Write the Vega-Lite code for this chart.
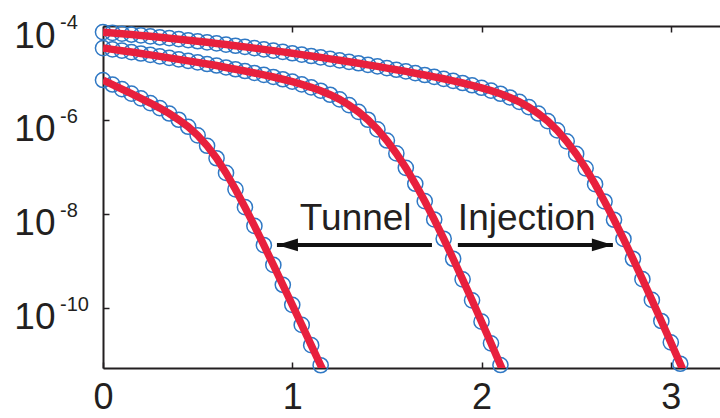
{
  "$schema": "https://vega.github.io/schema/vega-lite/v6.json",
  "width": 617,
  "height": 342,
  "autosize": "none",
  "padding": {"left": 103, "top": 26, "right": 0, "bottom": 50},
  "background": "white",
  "config": {"view": {"stroke": null}, "font": "Liberation Sans"},
  "datasets": {
    "curves": [
      {"c":"A","v":0,"I":7.41e-5,"k":"m"},{"c":"A","v":0.05,"I":7.13e-5,"k":"m"},{"c":"A","v":0.1,"I":6.85e-5,"k":"m"},{"c":"A","v":0.15,"I":6.58e-5,"k":"m"},{"c":"A","v":0.2,"I":6.30e-5,"k":"m"},{"c":"A","v":0.25,"I":6.03e-5,"k":"m"},{"c":"A","v":0.3,"I":5.75e-5,"k":"m"},{"c":"A","v":0.35,"I":5.50e-5,"k":"m"},{"c":"A","v":0.4,"I":5.24e-5,"k":"m"},{"c":"A","v":0.45,"I":4.98e-5,"k":"m"},{"c":"A","v":0.5,"I":4.73e-5,"k":"m"},{"c":"A","v":0.55,"I":4.49e-5,"k":"m"},{"c":"A","v":0.6,"I":4.26e-5,"k":"m"},{"c":"A","v":0.65,"I":4.03e-5,"k":"m"},{"c":"A","v":0.7,"I":3.80e-5,"k":"m"},{"c":"A","v":0.75,"I":3.59e-5,"k":"m"},{"c":"A","v":0.8,"I":3.38e-5,"k":"m"},{"c":"A","v":0.85,"I":3.18e-5,"k":"m"},{"c":"A","v":0.9,"I":2.99e-5,"k":"m"},{"c":"A","v":0.95,"I":2.81e-5,"k":"m"},{"c":"A","v":1.0,"I":2.63e-5,"k":"m"},{"c":"A","v":1.05,"I":2.46e-5,"k":"m"},{"c":"A","v":1.1,"I":2.30e-5,"k":"m"},{"c":"A","v":1.15,"I":2.15e-5,"k":"m"},{"c":"A","v":1.2,"I":2.00e-5,"k":"m"},{"c":"A","v":1.25,"I":1.86e-5,"k":"m"},{"c":"A","v":1.3,"I":1.73e-5,"k":"m"},{"c":"A","v":1.35,"I":1.61e-5,"k":"m"},{"c":"A","v":1.4,"I":1.49e-5,"k":"m"},{"c":"A","v":1.45,"I":1.38e-5,"k":"m"},{"c":"A","v":1.5,"I":1.27e-5,"k":"m"},{"c":"A","v":1.55,"I":1.17e-5,"k":"m"},{"c":"A","v":1.6,"I":1.08e-5,"k":"m"},{"c":"A","v":1.65,"I":9.89e-6,"k":"m"},{"c":"A","v":1.7,"I":9.06e-6,"k":"m"},{"c":"A","v":1.75,"I":8.26e-6,"k":"m"},{"c":"A","v":1.8,"I":7.52e-6,"k":"m"},{"c":"A","v":1.85,"I":6.81e-6,"k":"m"},{"c":"A","v":1.9,"I":6.12e-6,"k":"m"},{"c":"A","v":1.95,"I":5.47e-6,"k":"m"},{"c":"A","v":2.0,"I":4.84e-6,"k":"m"},{"c":"A","v":2.05,"I":4.22e-6,"k":"m"},{"c":"A","v":2.1,"I":3.61e-6,"k":"m"},{"c":"A","v":2.15,"I":3.01e-6,"k":"m"},{"c":"A","v":2.2,"I":2.43e-6,"k":"m"},{"c":"A","v":2.25,"I":1.87e-6,"k":"m"},{"c":"A","v":2.3,"I":1.37e-6,"k":"m"},{"c":"A","v":2.35,"I":9.42e-7,"k":"m"},{"c":"A","v":2.4,"I":6.00e-7,"k":"m"},{"c":"A","v":2.45,"I":3.51e-7,"k":"m"},{"c":"A","v":2.5,"I":1.89e-7,"k":"m"},{"c":"A","v":2.55,"I":9.35e-8,"k":"m"},{"c":"A","v":2.6,"I":4.30e-8,"k":"m"},{"c":"A","v":2.65,"I":1.84e-8,"k":"m"},{"c":"A","v":2.7,"I":7.52e-9,"k":"m"},{"c":"A","v":2.75,"I":2.93e-9,"k":"m"},{"c":"A","v":2.8,"I":1.11e-9,"k":"m"},{"c":"A","v":2.85,"I":4.08e-10,"k":"m"},{"c":"A","v":2.9,"I":1.48e-10,"k":"m"},{"c":"A","v":2.95,"I":5.26e-11,"k":"m"},{"c":"A","v":3.0,"I":1.85e-11,"k":"m"},{"c":"A","v":3.05,"I":6.47e-12,"k":"m"},{"c":"A","v":3.1,"I":2.25e-12,"k":"f"},
      {"c":"B","v":0,"I":3.39e-5,"k":"m"},{"c":"B","v":0.05,"I":3.18e-5,"k":"m"},{"c":"B","v":0.1,"I":2.98e-5,"k":"m"},{"c":"B","v":0.15,"I":2.79e-5,"k":"m"},{"c":"B","v":0.2,"I":2.60e-5,"k":"m"},{"c":"B","v":0.25,"I":2.43e-5,"k":"m"},{"c":"B","v":0.3,"I":2.26e-5,"k":"m"},{"c":"B","v":0.35,"I":2.10e-5,"k":"m"},{"c":"B","v":0.4,"I":1.95e-5,"k":"m"},{"c":"B","v":0.45,"I":1.81e-5,"k":"m"},{"c":"B","v":0.5,"I":1.68e-5,"k":"m"},{"c":"B","v":0.55,"I":1.55e-5,"k":"m"},{"c":"B","v":0.6,"I":1.44e-5,"k":"m"},{"c":"B","v":0.65,"I":1.31e-5,"k":"m"},{"c":"B","v":0.7,"I":1.20e-5,"k":"m"},{"c":"B","v":0.75,"I":1.10e-5,"k":"m"},{"c":"B","v":0.8,"I":1.00e-5,"k":"m"},{"c":"B","v":0.85,"I":9.10e-6,"k":"m"},{"c":"B","v":0.9,"I":8.22e-6,"k":"m"},{"c":"B","v":0.95,"I":7.36e-6,"k":"m"},{"c":"B","v":1.0,"I":6.55e-6,"k":"m"},{"c":"B","v":1.05,"I":5.74e-6,"k":"m"},{"c":"B","v":1.1,"I":4.95e-6,"k":"m"},{"c":"B","v":1.15,"I":4.19e-6,"k":"m"},{"c":"B","v":1.2,"I":3.44e-6,"k":"m"},{"c":"B","v":1.25,"I":2.74e-6,"k":"m"},{"c":"B","v":1.3,"I":2.07e-6,"k":"m"},{"c":"B","v":1.35,"I":1.49e-6,"k":"m"},{"c":"B","v":1.4,"I":1.01e-6,"k":"m"},{"c":"B","v":1.45,"I":6.30e-7,"k":"m"},{"c":"B","v":1.5,"I":3.65e-7,"k":"m"},{"c":"B","v":1.55,"I":1.94e-7,"k":"m"},{"c":"B","v":1.6,"I":9.57e-8,"k":"m"},{"c":"B","v":1.65,"I":4.38e-8,"k":"m"},{"c":"B","v":1.7,"I":1.87e-8,"k":"m"},{"c":"B","v":1.75,"I":7.62e-9,"k":"m"},{"c":"B","v":1.8,"I":2.96e-9,"k":"m"},{"c":"B","v":1.85,"I":1.11e-9,"k":"m"},{"c":"B","v":1.9,"I":4.05e-10,"k":"m"},{"c":"B","v":1.95,"I":1.45e-10,"k":"m"},{"c":"B","v":2.0,"I":5.08e-11,"k":"m"},{"c":"B","v":2.05,"I":1.76e-11,"k":"m"},{"c":"B","v":2.1,"I":6.07e-12,"k":"m"},{"c":"B","v":2.15,"I":2.07e-12,"k":"f"},
      {"c":"C","v":0,"I":7.08e-6,"k":"m"},{"c":"C","v":0.05,"I":5.68e-6,"k":"m"},{"c":"C","v":0.1,"I":4.55e-6,"k":"m"},{"c":"C","v":0.15,"I":3.63e-6,"k":"m"},{"c":"C","v":0.2,"I":2.89e-6,"k":"m"},{"c":"C","v":0.25,"I":2.29e-6,"k":"m"},{"c":"C","v":0.3,"I":1.79e-6,"k":"m"},{"c":"C","v":0.35,"I":1.37e-6,"k":"m"},{"c":"C","v":0.4,"I":1.01e-6,"k":"m"},{"c":"C","v":0.45,"I":7.16e-7,"k":"m"},{"c":"C","v":0.5,"I":4.71e-7,"k":"m"},{"c":"C","v":0.55,"I":2.82e-7,"k":"m"},{"c":"C","v":0.6,"I":1.53e-7,"k":"m"},{"c":"C","v":0.65,"I":7.45e-8,"k":"m"},{"c":"C","v":0.7,"I":3.33e-8,"k":"m"},{"c":"C","v":0.75,"I":1.39e-8,"k":"m"},{"c":"C","v":0.8,"I":5.56e-9,"k":"m"},{"c":"C","v":0.85,"I":2.16e-9,"k":"m"},{"c":"C","v":0.9,"I":8.22e-10,"k":"m"},{"c":"C","v":0.95,"I":3.10e-10,"k":"m"},{"c":"C","v":1.0,"I":1.16e-10,"k":"m"},{"c":"C","v":1.05,"I":4.34e-11,"k":"m"},{"c":"C","v":1.1,"I":1.61e-11,"k":"m"},{"c":"C","v":1.15,"I":6.01e-12,"k":"m"},{"c":"C","v":1.2,"I":2.24e-12,"k":"f"}
    ],
    "notes": [
      {"v": 1.04, "I": 4.6e-9, "text": "Tunnel"},
      {"v": 1.875, "I": 4.6e-9, "text": "Injection"}
    ],
    "arrows": [
      {"from": 1.738, "to": 0.919, "I": 2.19e-9, "dir": "left"},
      {"from": 1.875, "to": 2.694, "I": 2.19e-9, "dir": "right"}
    ],
    "exponents": [
      {"I": 1e-4, "e": "-4"},
      {"I": 1e-6, "e": "-6"},
      {"I": 1e-8, "e": "-8"},
      {"I": 1e-10, "e": "-10"}
    ]
  },
  "layer": [
    {
      "data": {"name": "curves"},
      "transform": [{"filter": "datum.k === 'm'"}],
      "mark": {"type": "point", "shape": "circle", "filled": false, "size": 230, "strokeWidth": 1.5, "color": "#2f78c4", "opacity": 1},
      "encoding": {
        "x": {"field": "v", "type": "quantitative", "scale": {"domain": [0, 3.26], "nice": false, "zero": false},
          "axis": {"orient": "bottom", "values": [0, 1, 2, 3], "format": "d", "title": null, "grid": false,
            "domainColor": "#231f20", "domainWidth": 2, "tickColor": "#231f20", "tickWidth": 1.5, "tickSize": -6,
            "labelFontSize": 36, "labelFont": "Liberation Sans", "labelColor": "#231f20", "labelPadding": 18,
            "labelFlush": false, "labelOverlap": false}},
        "y": {"field": "I", "type": "quantitative", "scale": {"type": "log", "domain": [5.25e-12, 1e-4], "nice": false},
          "axis": {"orient": "left", "values": [1e-4, 1e-6, 1e-8, 1e-10], "labelExpr": "'10'", "title": null, "grid": false,
            "domainColor": "#231f20", "domainWidth": 2, "tickColor": "#231f20", "tickWidth": 1.5, "tickSize": -6,
            "labelFontSize": 37, "labelFont": "Liberation Sans", "labelColor": "#231f20", "labelPadding": 54,
            "labelOffset": 10, "labelFlush": false, "labelOverlap": false}},
        "detail": {"field": "c"}
      }
    },
    {
      "data": {"name": "curves"},
      "mark": {"type": "line", "color": "#e8203d", "strokeWidth": 7.5, "clip": true},
      "encoding": {
        "x": {"field": "v", "type": "quantitative", "scale": {"domain": [0, 3.26], "nice": false, "zero": false},
          "axis": {"orient": "top", "values": [1, 2, 3], "labels": false, "title": null, "grid": false,
            "domainColor": "#231f20", "domainWidth": 2, "tickColor": "#231f20", "tickWidth": 1.5, "tickSize": -6}},
        "y": {"field": "I", "type": "quantitative", "scale": {"type": "log", "domain": [5.25e-12, 1e-4], "nice": false}, "axis": null},
        "detail": {"field": "c"},
        "order": {"field": "v"}
      }
    },
    {
      "data": {"name": "notes"},
      "mark": {"type": "text", "align": "left", "baseline": "alphabetic", "fontSize": 37, "font": "Liberation Sans", "color": "#231f20"},
      "encoding": {
        "x": {"field": "v", "type": "quantitative", "scale": {"domain": [0, 3.26], "nice": false, "zero": false}, "axis": null},
        "y": {"field": "I", "type": "quantitative", "scale": {"type": "log", "domain": [5.25e-12, 1e-4], "nice": false}, "axis": null},
        "text": {"field": "text"}
      }
    },
    {
      "data": {"name": "arrows"},
      "mark": {"type": "rule", "color": "#111111", "strokeWidth": 4},
      "encoding": {
        "x": {"field": "from", "type": "quantitative", "scale": {"domain": [0, 3.26], "nice": false, "zero": false}, "axis": null},
        "x2": {"field": "to"},
        "y": {"field": "I", "type": "quantitative", "scale": {"type": "log", "domain": [5.25e-12, 1e-4], "nice": false}, "axis": null}
      }
    },
    {
      "data": {"name": "arrows"},
      "mark": {"type": "point", "filled": true, "size": 441, "opacity": 1, "color": "#111111", "strokeWidth": 0},
      "encoding": {
        "x": {"field": "to", "type": "quantitative", "scale": {"domain": [0, 3.26], "nice": false, "zero": false}, "axis": null},
        "y": {"field": "I", "type": "quantitative", "scale": {"type": "log", "domain": [5.25e-12, 1e-4], "nice": false}, "axis": null},
        "shape": {"field": "dir", "type": "nominal", "scale": {"domain": ["left", "right"], "range": ["M0,0L2,-0.6L2,0.6Z", "M0,0L-2,-0.6L-2,0.6Z"]}, "legend": null}
      }
    },
    {
      "data": {"name": "exponents"},
      "mark": {"type": "text", "align": "left", "baseline": "middle", "fontSize": 20, "font": "Liberation Sans", "color": "#231f20", "dx": -43, "dy": -3},
      "encoding": {
        "x": {"datum": 0, "type": "quantitative", "scale": {"domain": [0, 3.26], "nice": false, "zero": false}, "axis": null},
        "y": {"field": "I", "type": "quantitative", "scale": {"type": "log", "domain": [5.25e-12, 1e-4], "nice": false}, "axis": null},
        "text": {"field": "e"}
      }
    }
  ],
  "resolve": {"axis": {"x": "independent", "y": "independent"}}
}
